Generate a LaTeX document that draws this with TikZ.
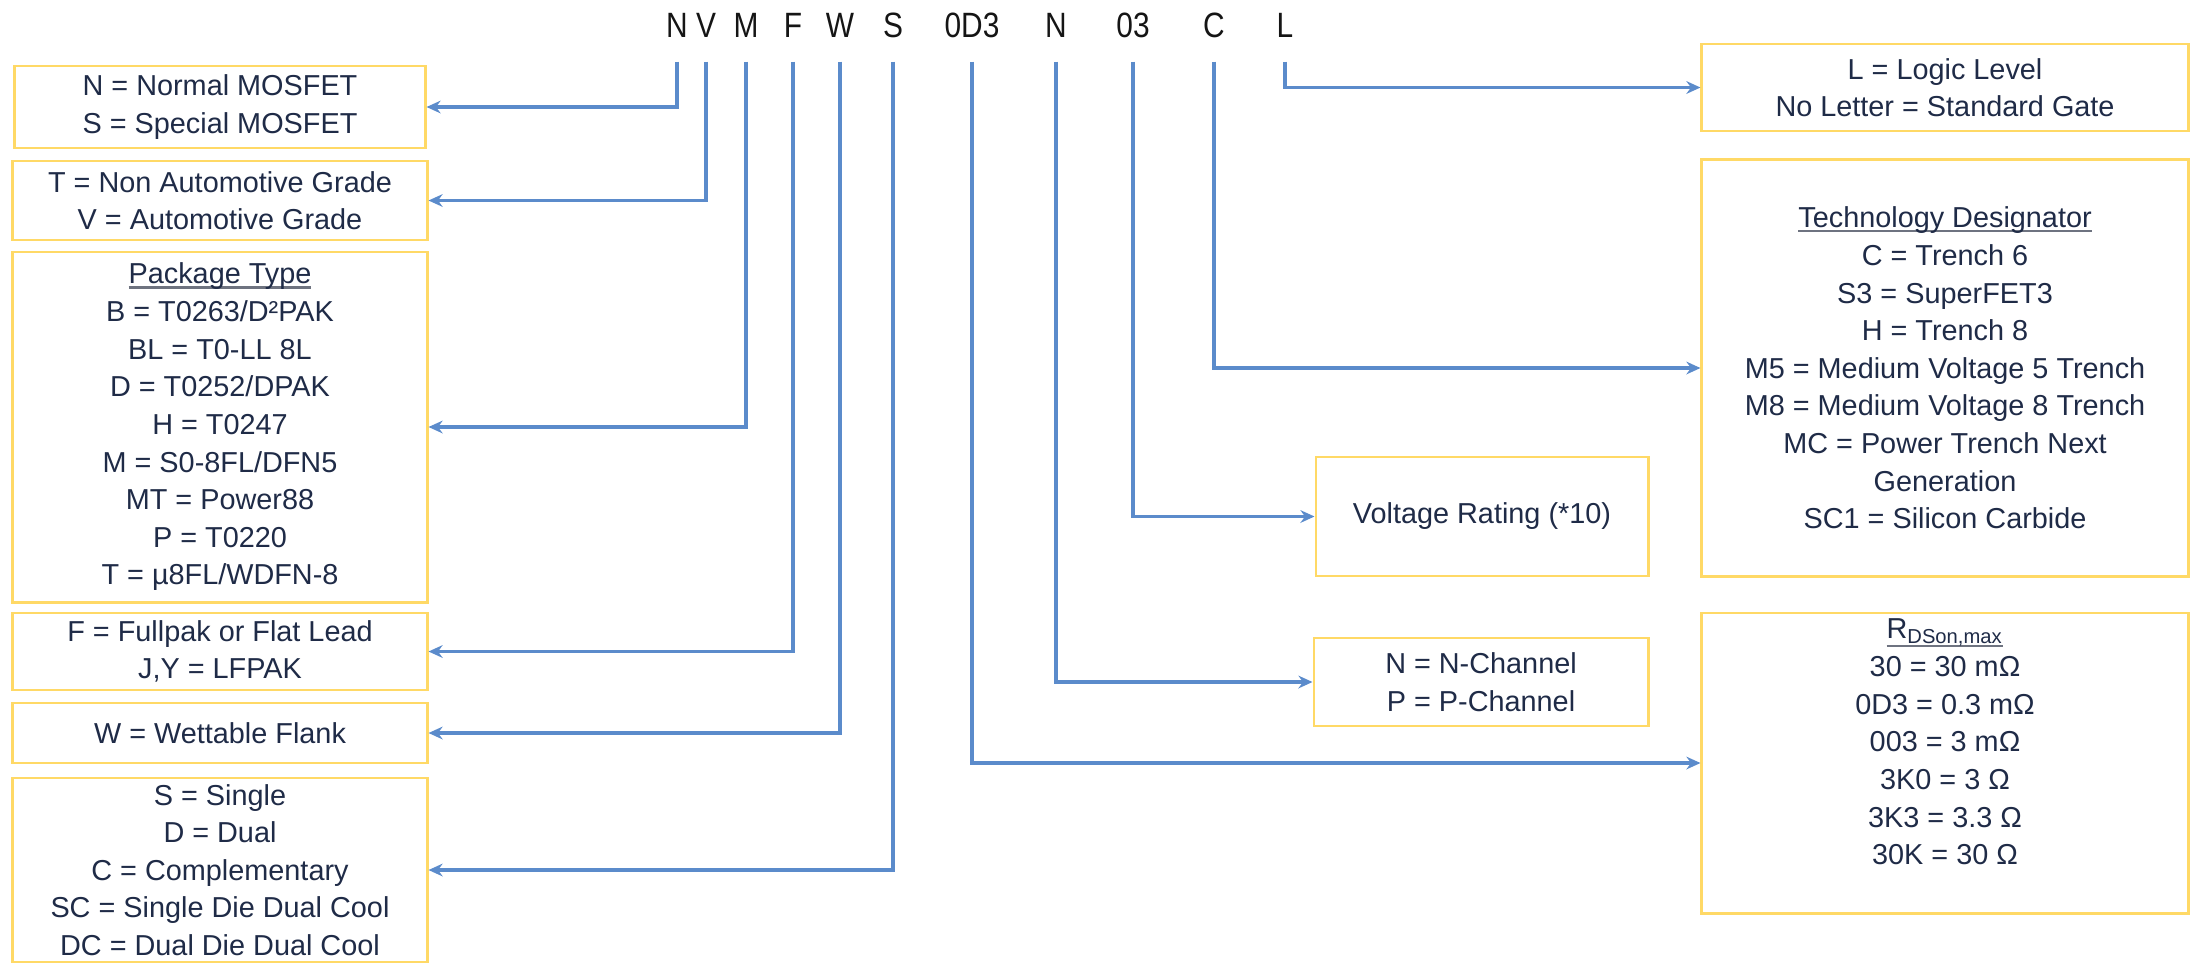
\documentclass[tikz,border=0pt]{standalone}
\usepackage{fontspec}
\setmainfont{Liberation Sans}
\newfontfamily\codefont[FakeStretch=0.85]{Liberation Sans}
\usetikzlibrary{arrows.meta}
\definecolor{gold}{HTML}{FFD966}
\definecolor{linkblue}{HTML}{5B8BCB}
\definecolor{inkblue}{HTML}{1F2B47}
\definecolor{ink}{HTML}{151515}
\definecolor{rulegray}{HTML}{6E7380}
% underline that sits close to the baseline, as in the source
\newcommand{\headline}[2][1.3pt]{%
  \setbox0\hbox{#2}\rlap{\color{rulegray}\rule[-#1]{\wd0}{0.6pt}}\box0}
\tikzset{
  codebox/.style={
    rectangle, draw=gold, line width=0.8pt,
    minimum width=#1, align=center, inner sep=0pt,
    font=\fontsize{8.2}{10.7}\selectfont, text=inkblue
  },
  codebox/.default=4.14cm,
  codeletter/.style={
    anchor=base, inner sep=0pt, text depth=0pt,
    font=\codefont\fontsize{10}{12}\selectfont, text=ink
  },
  leadarrow/.style={
    -{Stealth[length=4pt,width=3.6pt]}, line width=1.1pt,
    draw=linkblue, shorten <=0.24cm
  },
}

\begin{document}
\begin{tikzpicture}[x=0.01cm, y=-0.01cm]
  \useasboundingbox (0,0) rectangle (2198,963);

  % part number, one node per field
  \foreach \nm/\x/\txt in {cN/677/N, cV/706/V, cM/746/M, cF/793/F, cW/840/W,
      cS/893/S, cR/972/0D3, cCh/1056/N, cVolt/1133/03, cTech/1214/C, cL/1285/L}
    \node[codeletter] (\nm) at (\x,37) {\txt};

  % left column
  \node[codebox=4.10cm, minimum height=0.82cm] (bN) at (220,107)
    {N = Normal MOSFET\\S = Special MOSFET};
  \node[codebox, minimum height=0.79cm] (bV) at (220,200.5)
    {T = Non Automotive Grade\\V = Automotive Grade};
  \node[codebox, minimum height=3.50cm] (bPkg) at (220,427)
    {\headline{Package Type}\\B = T0263/D²PAK\\BL = T0-LL 8L\\D = T0252/DPAK\\
     H = T0247\\M = S0-8FL/DFN5\\MT = Power88\\P = T0220\\T = µ8FL/WDFN-8};
  \node[codebox, minimum height=0.77cm] (bF) at (220,651.5)
    {F = Fullpak or Flat Lead\\J,Y = LFPAK};
  \node[codebox, minimum height=0.60cm] (bW) at (220,733)
    {W = Wettable Flank};
  \node[codebox, minimum height=1.84cm] (bS) at (220,870)
    {S = Single\\D = Dual\\C = Complementary\\SC = Single Die Dual Cool\\
     DC = Dual Die Dual Cool};

  % right columns
  \node[codebox=4.86cm, minimum height=0.87cm] (bL) at (1945,87.5)
    {L = Logic Level\\No Letter = Standard Gate};
  \node[codebox=4.86cm, minimum height=4.16cm] (bTech) at (1945,368)
    {\headline{Technology Designator}\\C = Trench 6\\S3 = SuperFET3\\H = Trench 8\\
     M5 = Medium Voltage 5 Trench\\M8 = Medium Voltage 8 Trench\\
     MC = Power Trench Next\\Generation\\SC1 = Silicon Carbide};
  \node[codebox=3.32cm, minimum height=1.19cm] (bVolt) at (1482,516.5)
    {Voltage Rating (*10)};
  \node[codebox=3.34cm, minimum height=0.88cm] (bCh) at (1481,682)
    {N = N-Channel\\P = P-Channel};
  \node[codebox=4.86cm, minimum height=3.00cm] (bR) at (1945,763)
    {\headline[2.4pt]{R\textsubscript{DSon,max}}\\30 = 30 mΩ\\0D3 = 0.3 mΩ\\003 = 3 mΩ\\
     3K0 = 3 Ω\\3K3 = 3.3 Ω\\30K = 30 Ω\\[1.3pt]\mbox{}};

  % leaders from each field to its box
  \foreach \c/\b in {cN/bN, cV/bV, cM/bPkg, cF/bF, cW/bW, cS/bS,
      cR/bR, cCh/bCh, cVolt/bVolt, cTech/bTech, cL/bL}
    \draw[leadarrow] (\c.south) |- (\b);
\end{tikzpicture}
\end{document}
